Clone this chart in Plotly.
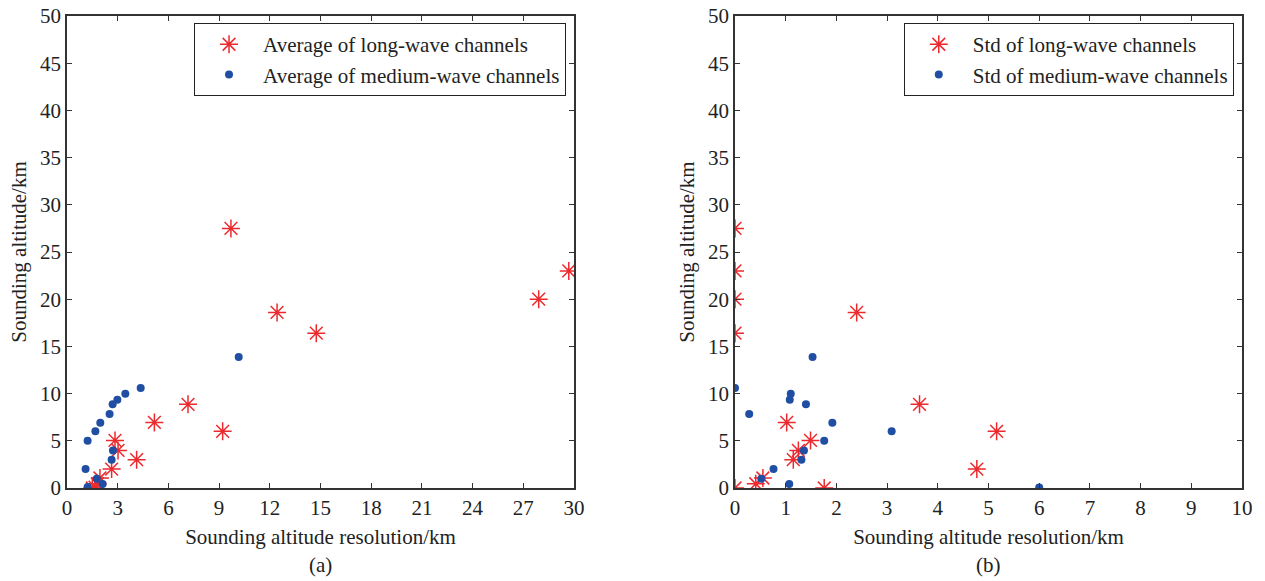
import plotly.graph_objects as go

# ---- data (a): averages ----
avg_long_x = [9.70, 12.43, 14.75, 7.16, 5.17, 9.21, 2.84, 3.02, 4.12, 2.64, 1.95, 1.66, 29.69, 27.91, 1.80, 1.50]
avg_long_y = [27.5, 18.6, 16.4, 8.86, 6.95, 6.0, 5.04, 3.98, 3.0, 2.0, 1.06, 0.1, 23.0, 20.0, 0.45, 0.0]
avg_med_x = [10.16, 4.36, 3.45, 2.98, 2.70, 2.52, 1.97, 1.68, 1.22, 2.72, 2.64, 1.10, 1.76, 2.11, 1.22]
avg_med_y = [13.88, 10.59, 9.99, 9.35, 8.86, 7.84, 6.92, 6.0, 5.01, 3.98, 3.0, 2.01, 0.99, 0.42, 0.1]

# ---- data (b): standard deviations ----
std_long_x = [0.0, 0.0, 0.0, 0.0, 2.40, 3.64, 5.16, 4.77, 1.02, 1.49, 1.25, 1.15, 0.55, 0.41, 1.76, 0.0]
std_long_y = [27.5, 23.0, 20.0, 16.4, 18.6, 8.86, 6.0, 2.0, 6.95, 5.04, 3.98, 3.0, 1.06, 0.45, 0.0, 0.0]
std_med_x = [0.0, 0.28, 1.10, 1.08, 1.40, 1.53, 1.92, 1.76, 3.09, 1.36, 1.31, 0.76, 0.52, 1.07, 6.0]
std_med_y = [10.59, 7.84, 9.99, 9.35, 8.86, 13.88, 6.92, 5.01, 6.0, 3.98, 3.0, 2.01, 0.99, 0.42, 0.05]

x_ticks_a = [0, 3, 6, 9, 12, 15, 18, 21, 24, 27, 30]
x_ticks_b = [0, 1, 2, 3, 4, 5, 6, 7, 8, 9, 10]
y_ticks = [0, 5, 10, 15, 20, 25, 30, 35, 40, 45, 50]

RED = "#ec2a2e"
BLUE = "#1f4ea3"
FONT = "Liberation Serif, Times New Roman, Times, serif"
AX = "#333333"
FS = 21

star = dict(symbol="asterisk-open", size=15, color=RED, line=dict(color=RED, width=1.5))
dot = dict(symbol="circle", size=8, color=BLUE, line=dict(width=0))

fig = go.Figure()
fig.add_trace(go.Scatter(x=avg_long_x, y=avg_long_y, mode="markers", marker=star,
                         name="Average of long-wave channels", xaxis="x", yaxis="y", legend="legend"))
fig.add_trace(go.Scatter(x=avg_med_x, y=avg_med_y, mode="markers", marker=dot,
                         name="Average of medium-wave channels", xaxis="x", yaxis="y", legend="legend"))
fig.add_trace(go.Scatter(x=std_long_x, y=std_long_y, mode="markers", marker=star,
                         name="Std of long-wave channels", xaxis="x2", yaxis="y2", legend="legend2"))
fig.add_trace(go.Scatter(x=std_med_x, y=std_med_y, mode="markers", marker=dot,
                         name="Std of medium-wave channels", xaxis="x2", yaxis="y2", legend="legend2"))

common_ax = dict(showline=True, linecolor=AX, linewidth=1.5, mirror="ticks", ticks="inside",
                 ticklen=5, tickcolor=AX, tickwidth=1.2, showgrid=False, zeroline=False,
                 automargin=False, tickfont=dict(family=FONT, size=FS, color="#222"))
xt = dict(text="Sounding altitude resolution/km", standoff=10, font=dict(family=FONT, size=FS))
yt = dict(text="Sounding altitude/km", standoff=8, font=dict(family=FONT, size=FS))
leg = dict(y=0.985, xanchor="right", yanchor="top", bordercolor="#222", borderwidth=1,
           bgcolor="white", font=dict(family=FONT, size=FS, color="#222"),
           tracegroupgap=0, itemsizing="trace", itemwidth=58)

fig.update_layout(
    width=1265, height=581,
    margin=dict(l=67, r=23, t=16, b=93, autoexpand=False),
    plot_bgcolor="white", paper_bgcolor="white",
    font=dict(family=FONT, size=FS, color="#222"),
    xaxis=dict(domain=[0, 0.4315], range=[0, 30], tickvals=x_ticks_a, anchor="y", title=xt, **common_ax),
    yaxis=dict(domain=[0, 1], range=[0, 50], tickvals=y_ticks, anchor="x", title=yt, **common_ax),
    xaxis2=dict(domain=[0.5685, 1], range=[0, 10], tickvals=x_ticks_b, anchor="y2", title=xt, **common_ax),
    yaxis2=dict(domain=[0, 1], range=[0, 50], tickvals=y_ticks, anchor="x2", title=yt, **common_ax),
    legend=dict(x=0.4247, **leg),
    legend2=dict(x=0.993, **leg),
    annotations=[
        dict(text="(a)", x=0.2157, y=-0.163, xref="paper", yref="paper", showarrow=False,
             xanchor="center", yanchor="middle", font=dict(family=FONT, size=FS, color="#222")),
        dict(text="(b)", x=0.7842, y=-0.163, xref="paper", yref="paper", showarrow=False,
             xanchor="center", yanchor="middle", font=dict(family=FONT, size=FS, color="#222")),
    ],
    showlegend=True,
)

fig.write_html("out.html")
